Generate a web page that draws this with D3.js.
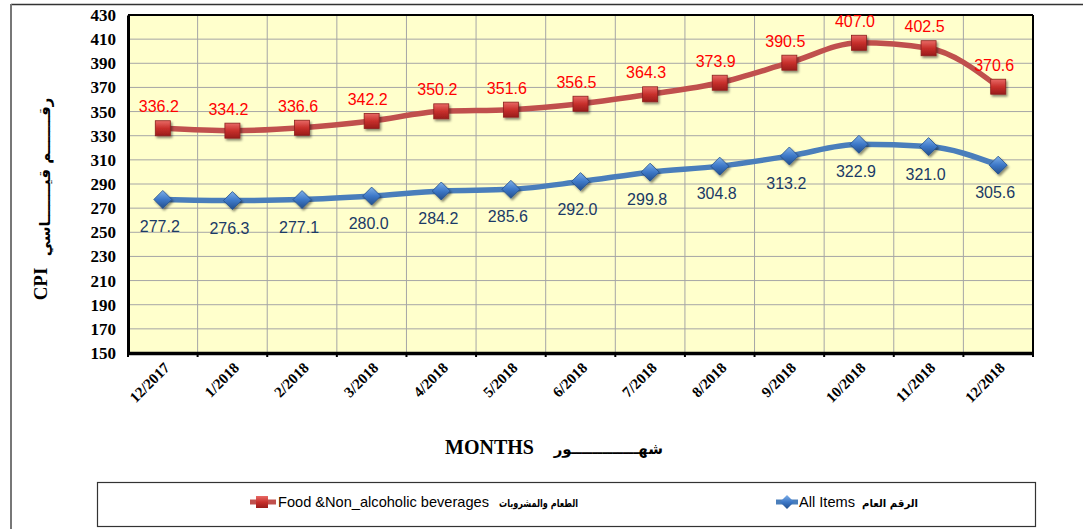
<!DOCTYPE html>
<html><head><meta charset="utf-8">
<script src="https://cdn.jsdelivr.net/npm/d3@7"></script>
<style>
html,body{margin:0;padding:0;background:#fff;}
svg{display:block;}
</style></head>
<body>
<svg id="chart" width="1083" height="529"></svg>
<script>
const categories = ["12/2017","1/2018","2/2018","3/2018","4/2018","5/2018","6/2018","7/2018","8/2018","9/2018","10/2018","11/2018","12/2018"];
const foodValues = [336.2,334.2,336.6,342.2,350.2,351.6,356.5,364.3,373.9,390.5,407.0,402.5,370.6];
const allItemsValues = [277.2,276.3,277.1,280.0,284.2,285.6,292.0,299.8,304.8,313.2,322.9,321.0,305.6];
const yTicks = [150,170,190,210,230,250,270,290,310,330,350,370,390,410,430];
const foodName = "Food &Non_alcoholic beverages";
const foodNameAr = "الطعام والمشروبات";
const allName = "All Items";
const allNameAr = "الرقم العام";

const svg = d3.select("#chart");
const L = 128, R = 1033, T = 15, B = 353;
const x = d3.scaleBand().domain(categories).range([L, R]).padding(0);
const y = d3.scaleLinear().domain([150, 430]).range([B, T]);
const cx = d => x(d) + x.bandwidth() / 2;

const defs = svg.append("defs");
const rg = defs.append("linearGradient").attr("id","rg").attr("x1","0").attr("y1","0").attr("x2","0").attr("y2","1");
rg.append("stop").attr("offset","0").attr("stop-color","#e86a66");
rg.append("stop").attr("offset","0.5").attr("stop-color","#c8302c");
rg.append("stop").attr("offset","1").attr("stop-color","#9a1c1a");
const bg = defs.append("linearGradient").attr("id","bg").attr("x1","0").attr("y1","0").attr("x2","0").attr("y2","1");
bg.append("stop").attr("offset","0").attr("stop-color","#7fb0e8");
bg.append("stop").attr("offset","0.5").attr("stop-color","#3d78c8");
bg.append("stop").attr("offset","1").attr("stop-color","#234f8c");
const sh = defs.append("filter").attr("id","sh").attr("x","-50%").attr("y","-50%").attr("width","200%").attr("height","200%");
sh.append("feDropShadow").attr("dx",1.5).attr("dy",2).attr("stdDeviation",1.2).attr("flood-color","#000").attr("flood-opacity",0.45);

// outer frame
svg.append("line").attr("x1",11).attr("x2",1083).attr("y1",4.5).attr("y2",4.5).attr("stroke","#333").attr("stroke-width",1.5);
svg.append("line").attr("x1",11).attr("x2",11).attr("y1",4).attr("y2",529).attr("stroke","#777").attr("stroke-width",2);

// plot background
svg.append("rect").attr("x",L).attr("y",T).attr("width",R-L).attr("height",B-T).attr("fill","#ffffcc");

// grid
svg.append("g").selectAll("line").data(yTicks).join("line")
  .attr("x1",L).attr("x2",R).attr("y1",d=>y(d)).attr("y2",d=>y(d))
  .attr("stroke","#a6a6a6").attr("stroke-width",1);
svg.append("g").selectAll("line").data(categories.slice(1)).join("line")
  .attr("x1",d=>x(d)).attr("x2",d=>x(d)).attr("y1",T).attr("y2",B)
  .attr("stroke","#a6a6a6").attr("stroke-width",1);

// border
svg.append("line").attr("x1",L).attr("x2",R).attr("y1",T).attr("y2",T).attr("stroke","#000").attr("stroke-width",2);
svg.append("line").attr("x1",R).attr("x2",R).attr("y1",T).attr("y2",B).attr("stroke","#000").attr("stroke-width",2);

// y axis
const yAxis = d3.axisLeft(y).tickValues(yTicks).tickSize(0).tickPadding(12).tickFormat(d3.format("d"));
const gy = svg.append("g").attr("transform",`translate(${L},0)`).call(yAxis);
gy.select(".domain").attr("stroke","#000").attr("stroke-width",3);
gy.selectAll("text").attr("font-family","Liberation Serif").attr("font-weight","bold").attr("font-size",17).attr("fill","#000");

// x axis
const xAxis = d3.axisBottom(x).tickSize(0).tickFormat("");
const gx = svg.append("g").attr("transform",`translate(0,${B})`).call(xAxis);
gx.select(".domain").attr("stroke","#000").attr("stroke-width",3.5);
gx.selectAll(".tick").remove();
svg.append("g").selectAll("line").data(categories.concat(["__end"])).join("line")
  .attr("x1",(d,i)=> i<categories.length ? x(d) : R).attr("x2",(d,i)=> i<categories.length ? x(d) : R)
  .attr("y1",B).attr("y2",B+4).attr("stroke","#000").attr("stroke-width",2);
svg.append("g").selectAll("text").data(categories).join("text")
  .attr("transform",d=>`translate(${cx(d)+4},${B+12}) rotate(-45)`)
  .attr("text-anchor","end").attr("dy","0.35em")
  .attr("font-family","Liberation Serif").attr("font-weight","bold").attr("font-size",15)
  .text(d=>d);

// axis titles
svg.append("text").attr("x",445).attr("y",454).attr("font-family","Liberation Serif").attr("font-weight","bold").attr("font-size",20).text("MONTHS");
svg.append("text").attr("x",663).attr("y",454).attr("text-anchor","end")
  .attr("font-family","DejaVu Sans").attr("font-weight","bold").attr("font-size",15).text("شهـــــــــــــور");
svg.append("text").attr("transform","translate(47,284) rotate(-90)").attr("text-anchor","middle")
  .attr("font-family","Liberation Serif").attr("font-weight","bold").attr("font-size",19).text("CPI");
svg.append("text").attr("transform","translate(50,177) rotate(-90)").attr("text-anchor","middle")
  .attr("font-family","DejaVu Sans").attr("font-weight","bold").attr("font-size",15).text("رقـــــــم قيـــــــاسي");

// lines
const line = d3.line().x((d,i)=>cx(categories[i])).y(d=>y(d)).curve(d3.curveMonotoneX);
svg.append("path").datum(foodValues).attr("d",line).attr("fill","none").attr("stroke","#c0504d").attr("stroke-width",5.5);
svg.append("path").datum(allItemsValues).attr("d",line).attr("fill","none").attr("stroke","#4a7ebb").attr("stroke-width",5.5);

// markers
svg.append("g").selectAll("rect").data(foodValues).join("rect")
  .attr("x",(d,i)=>cx(categories[i])-7.5).attr("y",d=>y(d)-7.5).attr("width",15).attr("height",15)
  .attr("fill","url(#rg)").attr("stroke","#8c1f1d").attr("stroke-width",0.8).attr("filter","url(#sh)");
svg.append("g").selectAll("path").data(allItemsValues).join("path")
  .attr("transform",(d,i)=>`translate(${cx(categories[i])},${y(d)})`)
  .attr("d","M0,-9L9,0L0,9L-9,0Z")
  .attr("fill","url(#bg)").attr("stroke","#234f8c").attr("stroke-width",0.8).attr("filter","url(#sh)");

// labels
svg.append("g").selectAll("text").data(foodValues).join("text")
  .attr("x",(d,i)=>cx(categories[i])-4).attr("y",d=>y(d)-16)
  .attr("text-anchor","middle").attr("font-family","Liberation Sans").attr("font-size",16).attr("fill","#ff0000")
  .text(d=>d.toFixed(1));
svg.append("g").selectAll("text").data(allItemsValues).join("text")
  .attr("x",(d,i)=>cx(categories[i])-3).attr("y",d=>y(d)+33)
  .attr("text-anchor","middle").attr("font-family","Liberation Sans").attr("font-size",16).attr("fill","#1b3a66")
  .text(d=>d.toFixed(1));

// legend
svg.append("rect").attr("x",97.5).attr("y",482.5).attr("width",938).attr("height",44).attr("fill","#fff").attr("stroke","#333").attr("stroke-width",1.2);
const ly = 502;
svg.append("line").attr("x1",250).attr("x2",276).attr("y1",ly).attr("y2",ly).attr("stroke","#c0504d").attr("stroke-width",5);
svg.append("rect").attr("x",256).attr("y",ly-6).attr("width",12).attr("height",12).attr("fill","url(#rg)");
svg.append("text").attr("x",278).attr("y",ly+5).attr("font-family","Liberation Sans").attr("font-size",14.5)
  .attr("textLength",211).attr("lengthAdjust","spacingAndGlyphs").text(foodName);
svg.append("text").attr("x",499).attr("y",ly+5).attr("font-family","DejaVu Sans").attr("font-weight","bold").attr("font-size",11)
  .attr("textLength",79).attr("lengthAdjust","spacingAndGlyphs").text(foodNameAr);
svg.append("line").attr("x1",776).attr("x2",798).attr("y1",ly).attr("y2",ly).attr("stroke","#4a7ebb").attr("stroke-width",5);
svg.append("path").attr("transform",`translate(787,${ly})`).attr("d","M0,-7L7,0L0,7L-7,0Z").attr("fill","url(#bg)");
svg.append("text").attr("x",799).attr("y",ly+5).attr("font-family","Liberation Sans").attr("font-size",14.5)
  .attr("textLength",56).attr("lengthAdjust","spacingAndGlyphs").text(allName);
svg.append("text").attr("x",862).attr("y",ly+5).attr("font-family","DejaVu Sans").attr("font-weight","bold").attr("font-size",11)
  .attr("textLength",56).attr("lengthAdjust","spacingAndGlyphs").text(allNameAr);
</script>
</body></html>
